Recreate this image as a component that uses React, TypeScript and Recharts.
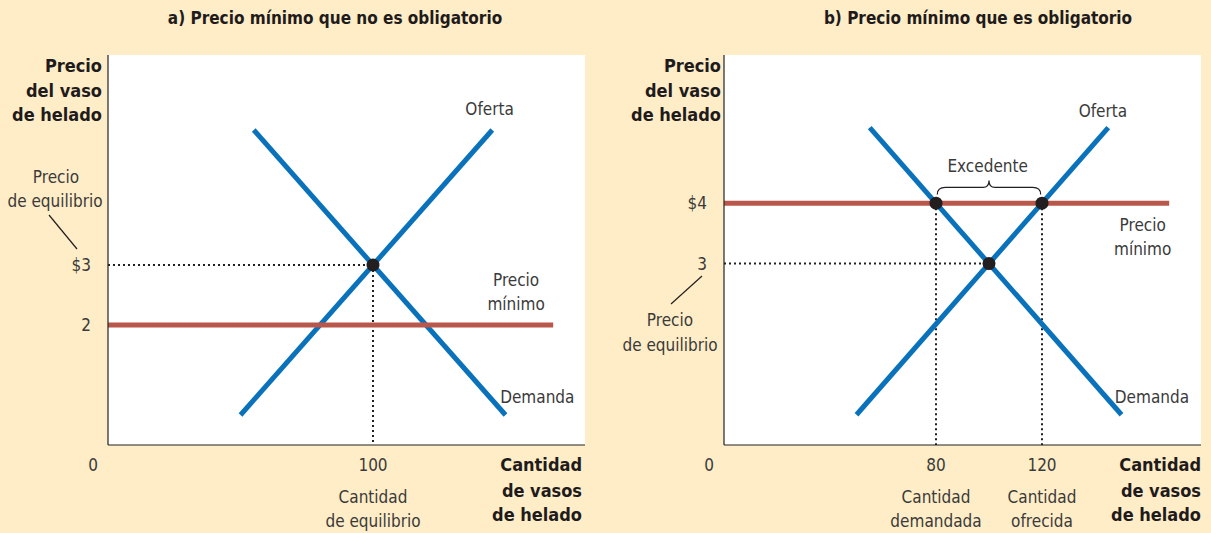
import React from "react";
import {
  ComposedChart,
  Line,
  Scatter,
  XAxis,
  YAxis,
  ReferenceLine,
  ReferenceDot,
  CartesianGrid,
} from "recharts";

// panel a) precio mínimo no obligatorio
const supplyA = [{ q: 50, p: 0.5 }, { q: 145, p: 5.25 }];
const demandA = [{ q: 55, p: 5.25 }, { q: 150, p: 0.5 }];
const floorA = [{ q: 0, p: 2 }, { q: 168, p: 2 }];
const pointsA = [{ q: 100, p: 3 }];
const xTicksA = [0, 100];
const yTicksA = [2, 3];
const xTickLabelsA: Record<number, string[]> = { 0: ["0"], 100: ["100", "Cantidad", "de equilibrio"] };
const yTickLabelsA: Record<number, string> = { 2: "2", 3: "$3" };

// panel b) precio mínimo obligatorio
const supplyB = [{ q: 50, p: 0.5 }, { q: 145, p: 5.25 }];
const demandB = [{ q: 55, p: 5.25 }, { q: 150, p: 0.5 }];
const floorB = [{ q: 0, p: 4 }, { q: 168, p: 4 }];
const pointsB = [{ q: 80, p: 4 }, { q: 100, p: 3 }, { q: 120, p: 4 }];
const xTicksB = [0, 80, 120];
const yTicksB = [3, 4];
const xTickLabelsB: Record<number, string[]> = {
  0: ["0"],
  80: ["80", "Cantidad", "demandada"],
  120: ["120", "Cantidad", "ofrecida"],
};
const yTickLabelsB: Record<number, string> = { 3: "3", 4: "$4" };

const BLUE = "#0a72ba";
const RED = "#b9574b";
const DOT = "#231f20";
const TXT = "#3a3a3a";
const BG = "#feedc6";
const FONT = "'Liberation Sans Narrow', 'DejaVu Sans Condensed', sans-serif";

type Seg = { from: { q: number; p: number }; to: { q: number; p: number } };
type Note = { q: number; p: number; lines: string[] };

function XTick(props: any) {
  const { x, y, payload, labels } = props;
  const lines: string[] = labels[payload.value] || [];
  const dx = payload.value === 0 ? -15 : 0;
  return (
    <g>
      {lines.map((t, i) => (
        <text
          key={i}
          x={x + dx}
          y={y + 12 + (i === 0 ? 0 : 8 + i * 24)}
          textAnchor="middle"
          dominantBaseline="central"
          fontSize={17}
          fill={TXT}
          fontFamily={FONT}
        >
          {t}
        </text>
      ))}
    </g>
  );
}

function YTick(props: any) {
  const { x, y, payload, labels } = props;
  return (
    <text x={x - 9} y={y} textAnchor="end" dominantBaseline="central" fontSize={17} fill={TXT} fontFamily={FONT}>
      {labels[payload.value]}
    </text>
  );
}

function NoteShape(props: any) {
  const { cx, cy, lines } = props;
  return (
    <g>
      {lines.map((t: string, i: number) => (
        <text
          key={i}
          x={cx}
          y={cy + (i - (lines.length - 1) / 2) * 24}
          textAnchor="middle"
          dominantBaseline="central"
          fontSize={17}
          fill={TXT}
          fontFamily={FONT}
        >
          {t}
        </text>
      ))}
    </g>
  );
}

function BraceShape(props: any) {
  const { x1, y1, x2 } = props;
  const x1v = Math.min(x1, x2);
  const x2v = Math.max(x1, x2);
  const m = (x1v + x2v) / 2;
  const y = y1;
  const d = `M${x1v},${y + 7} Q${x1v},${y} ${x1v + 8},${y} L${m - 6},${y} Q${m},${y} ${m},${y - 7} Q${m},${y} ${m + 6},${y} L${x2v - 8},${y} Q${x2v},${y} ${x2v},${y + 7}`;
  return <path d={d} fill="none" stroke={DOT} strokeWidth={1.2} />;
}

function Panel(props: {
  supply: { q: number; p: number }[];
  demand: { q: number; p: number }[];
  floor: { q: number; p: number }[];
  points: { q: number; p: number }[];
  xTicks: number[];
  yTicks: number[];
  xLabels: Record<number, string[]>;
  yLabels: Record<number, string>;
  dotted: Seg[];
  notes: Note[];
  brace?: Seg;
  yMax: number;
  left: number;
  width: number;
}) {
  const { supply, demand, floor, points, xTicks, yTicks, xLabels, yLabels, dotted, notes, brace, yMax } = props;
  return (
    <div style={{ position: "absolute", left: props.left, top: 0 }}>
      <ComposedChart
        width={props.width}
        height={533}
        margin={{ top: 55, right: Math.max(props.width - 477 - 108, 0), bottom: 87, left: 107 }}
      >
        <CartesianGrid fill="#ffffff" horizontal={false} vertical={false} />
        <XAxis
          type="number"
          dataKey="q"
          domain={[0, 180]}
          ticks={xTicks}
          height={1}
          tickLine={false}
          axisLine={{ stroke: "#222", strokeWidth: 1.2 }}
          tick={<XTick labels={xLabels} />}
          allowDataOverflow
          interval={0}
        />
        <YAxis
          type="number"
          dataKey="p"
          domain={[0, yMax]}
          ticks={yTicks}
          width={1}
          tickLine={false}
          axisLine={{ stroke: "#222", strokeWidth: 1.2 }}
          tick={<YTick labels={yLabels} />}
          allowDataOverflow
          interval={0}
        />
        {dotted.map((s, i) => (
          <ReferenceLine
            key={"d" + i}
            segment={[
              { x: s.from.q, y: s.from.p },
              { x: s.to.q, y: s.to.p },
            ]}
            stroke={DOT}
            strokeWidth={2}
            strokeDasharray="2 3"
          />
        ))}
        <Line data={supply} dataKey="p" stroke={BLUE} strokeWidth={5} dot={false} isAnimationActive={false} />
        <Line data={demand} dataKey="p" stroke={BLUE} strokeWidth={5} dot={false} isAnimationActive={false} />
        <Line data={floor} dataKey="p" stroke={RED} strokeWidth={5} dot={false} isAnimationActive={false} />
        <Scatter
          data={points}
          dataKey="p"
          fill={DOT}
          isAnimationActive={false}
          shape={(sp: any) => <circle cx={sp.cx} cy={sp.cy} r={6.5} fill={DOT} />}
        />
        {brace && (
          <ReferenceLine
            segment={[
              { x: brace.from.q, y: brace.from.p },
              { x: brace.to.q, y: brace.to.p },
            ]}
            shape={<BraceShape />}
          />
        )}
        {notes.map((n, i) => (
          <ReferenceDot key={"n" + i} x={n.q} y={n.p} r={0} shape={<NoteShape lines={n.lines} />} />
        ))}
      </ComposedChart>
    </div>
  );
}

const dottedA: Seg[] = [
  { from: { q: 0, p: 3 }, to: { q: 100, p: 3 } },
  { from: { q: 100, p: 3 }, to: { q: 100, p: 0 } },
];
const notesA: Note[] = [
  { q: 144, p: 5.6, lines: ["Oferta"] },
  { q: 162, p: 0.8, lines: ["Demanda"] },
  { q: 154, p: 2.55, lines: ["Precio", "mínimo"] },
];
const dottedB: Seg[] = [
  { from: { q: 0, p: 3 }, to: { q: 100, p: 3 } },
  { from: { q: 80, p: 4 }, to: { q: 80, p: 0 } },
  { from: { q: 120, p: 4 }, to: { q: 120, p: 0 } },
];
const notesB: Note[] = [
  { q: 143, p: 5.52, lines: ["Oferta"] },
  { q: 161.5, p: 0.8, lines: ["Demanda"] },
  { q: 158, p: 3.44, lines: ["Precio", "mínimo"] },
  { q: 99.5, p: 4.62, lines: ["Excedente"] },
];
const braceB: Seg = { from: { q: 80.5, p: 4.26 }, to: { q: 119.5, p: 4.26 } };

function T(props: { x: number; y: number; anchor?: string; bold?: boolean; size?: number; children: string }) {
  return (
    <text
      x={props.x}
      y={props.y}
      textAnchor={(props.anchor as any) || "middle"}
      dominantBaseline="central"
      fontSize={props.size || 17}
      fontWeight={props.bold ? 700 : 400}
      fill={props.bold ? "#1f1b1c" : TXT}
      fontFamily={FONT}
    >
      {props.children}
    </text>
  );
}

export default function App() {
  return (
    <div style={{ position: "absolute", left: 0, top: 0, width: 1211, height: 533, background: BG, overflow: "hidden" }}>
      <Panel
        supply={supplyA}
        demand={demandA}
        floor={floorA}
        points={pointsA}
        xTicks={xTicksA}
        yTicks={yTicksA}
        xLabels={xTickLabelsA}
        yLabels={yTickLabelsA}
        dotted={dottedA}
        notes={notesA}
        yMax={6.5}
        left={0}
        width={605}
      />
      <Panel
        supply={supplyB}
        demand={demandB}
        floor={floorB}
        points={pointsB}
        xTicks={xTicksB}
        yTicks={yTicksB}
        xLabels={xTickLabelsB}
        yLabels={yTickLabelsB}
        dotted={dottedB}
        notes={notesB}
        brace={braceB}
        yMax={6.45}
        left={616}
        width={595}
      />
      <svg width={1211} height={533} style={{ position: "absolute", left: 0, top: 0, pointerEvents: "none" }}>
        <T x={335} y={18} bold size={17}>a) Precio mínimo que no es obligatorio</T>
        <T x={978} y={18} bold size={17}>b) Precio mínimo que es obligatorio</T>

        <T x={102} y={65} anchor="end" bold size={18}>Precio</T>
        <T x={102} y={90} anchor="end" bold size={18}>del vaso</T>
        <T x={102} y={114} anchor="end" bold size={18}>de helado</T>
        <T x={56} y={177}>Precio</T>
        <T x={55} y={201}>de equilibrio</T>
        <line x1={49} y1={215} x2={77} y2={249} stroke={DOT} strokeWidth={1.2} />
        <T x={582} y={464} anchor="end" bold size={18}>Cantidad</T>
        <T x={582} y={490} anchor="end" bold size={18}>de vasos</T>
        <T x={582} y={514} anchor="end" bold size={18}>de helado</T>

        <T x={721} y={65} anchor="end" bold size={18}>Precio</T>
        <T x={721} y={90} anchor="end" bold size={18}>del vaso</T>
        <T x={721} y={114} anchor="end" bold size={18}>de helado</T>
        <T x={670} y={320}>Precio</T>
        <T x={670} y={345}>de equilibrio</T>
        <line x1={671} y1={304} x2={702} y2={276} stroke={DOT} strokeWidth={1.2} />
        <T x={1201} y={464} anchor="end" bold size={18}>Cantidad</T>
        <T x={1201} y={490} anchor="end" bold size={18}>de vasos</T>
        <T x={1201} y={514} anchor="end" bold size={18}>de helado</T>
      </svg>
    </div>
  );
}
